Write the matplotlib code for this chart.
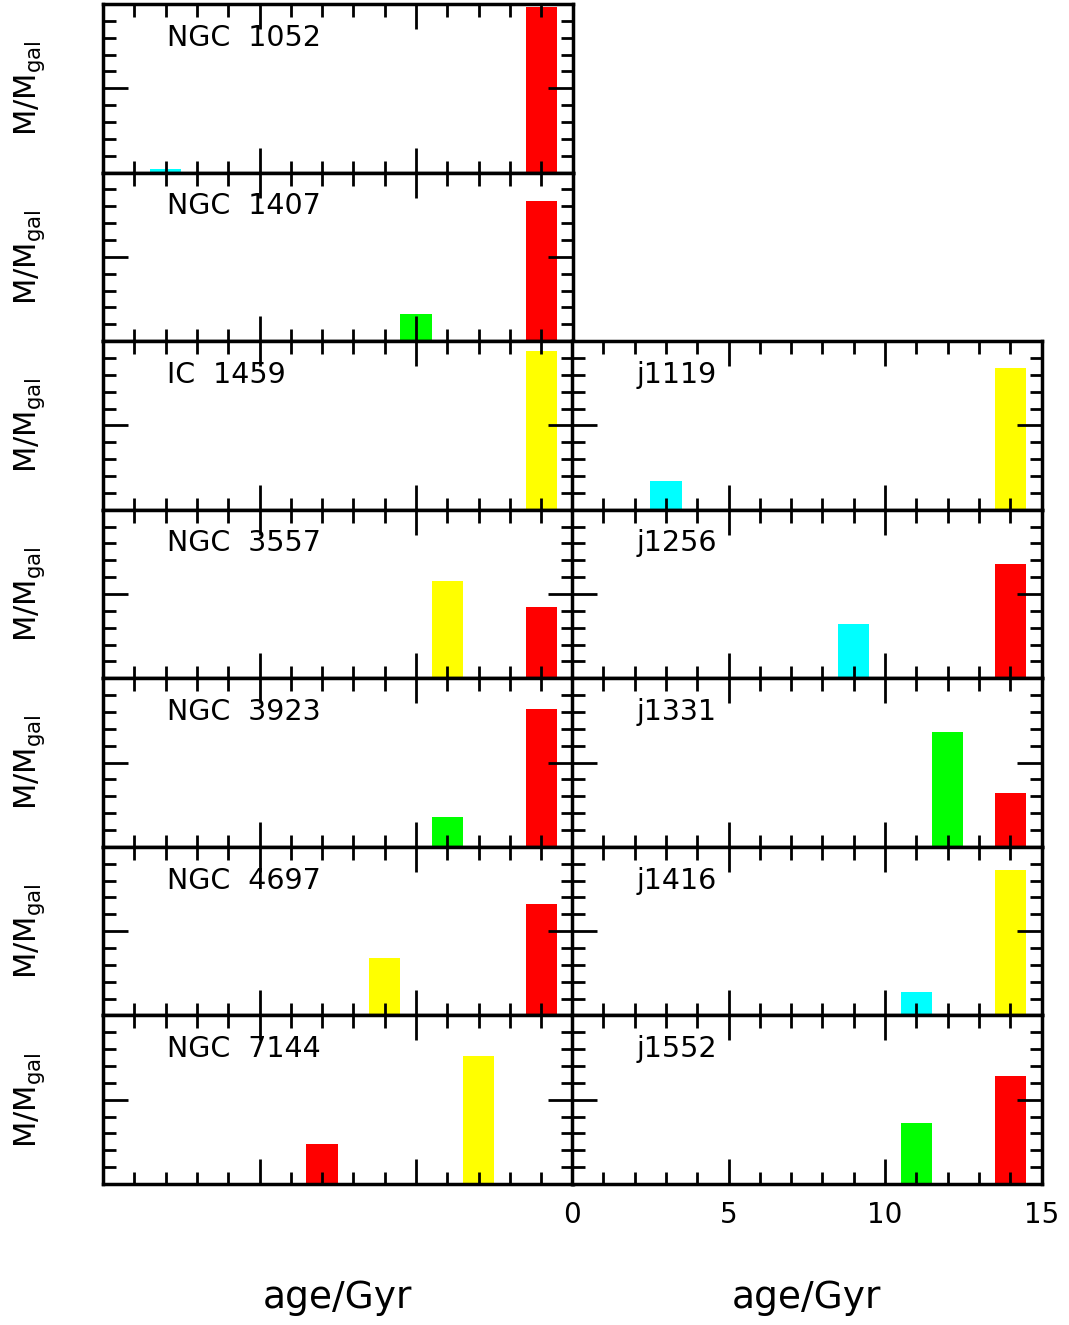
import numpy as np
import matplotlib
matplotlib.use('Agg')
import matplotlib.pyplot as plt
from matplotlib.ticker import MultipleLocator

# galaxy names, left column top to bottom then right column
left_names = ['NGC  1052', 'NGC  1407', 'IC  1459', 'NGC  3557', 'NGC  3923', 'NGC  4697', 'NGC  7144']
right_names = ['j1119', 'j1256', 'j1331', 'j1416', 'j1552']

# age bins (Gyr) with mass fractions and bar colours for each galaxy
ages = {
    'NGC  1052': [2, 14],
    'NGC  1407': [10, 14],
    'IC  1459': [14],
    'NGC  3557': [11, 14],
    'NGC  3923': [11, 14],
    'NGC  4697': [9, 14],
    'NGC  7144': [7, 12],
    'j1119': [3, 14],
    'j1256': [9, 14],
    'j1331': [12, 14],
    'j1416': [11, 14],
    'j1552': [11, 14],
}
fractions = {
    'NGC  1052': [0.02, 0.98],
    'NGC  1407': [0.16, 0.83],
    'IC  1459': [0.94],
    'NGC  3557': [0.58, 0.42],
    'NGC  3923': [0.18, 0.82],
    'NGC  4697': [0.34, 0.66],
    'NGC  7144': [0.24, 0.76],
    'j1119': [0.17, 0.84],
    'j1256': [0.32, 0.68],
    'j1331': [0.68, 0.32],
    'j1416': [0.14, 0.86],
    'j1552': [0.36, 0.64],
}
colors = {
    'NGC  1052': ['cyan', 'red'],
    'NGC  1407': ['lime', 'red'],
    'IC  1459': ['yellow'],
    'NGC  3557': ['yellow', 'red'],
    'NGC  3923': ['lime', 'red'],
    'NGC  4697': ['yellow', 'red'],
    'NGC  7144': ['red', 'yellow'],
    'j1119': ['cyan', 'yellow'],
    'j1256': ['cyan', 'red'],
    'j1331': ['lime', 'red'],
    'j1416': ['cyan', 'yellow'],
    'j1552': ['lime', 'red'],
}

W, H = 1069, 1325
fig = plt.figure(figsize=(W / 100, H / 100), dpi=100)

x0_left, x0_right, panel_w = 103, 572, 469.5
top, bottom = 4, 1184
row_h = (bottom - top) / 7


def make_panel(col, row, name, show_xlabels):
    x0 = x0_left if col == 0 else x0_right
    y_top = top + row * row_h
    ax = fig.add_axes([x0 / W, 1 - (y_top + row_h) / H, panel_w / W, row_h / H])
    ax.bar(ages[name], fractions[name], width=1.0, color=colors[name], zorder=1)
    ax.set_xlim(0, 15)
    ax.set_ylim(0, 1)
    ax.xaxis.set_major_locator(MultipleLocator(5))
    ax.xaxis.set_minor_locator(MultipleLocator(1))
    ax.yaxis.set_major_locator(MultipleLocator(0.5))
    ax.yaxis.set_minor_locator(MultipleLocator(0.1))
    ax.tick_params(which='both', direction='in', top=True, right=True, width=2, color='black')
    ax.tick_params(which='major', length=18)
    ax.tick_params(which='minor', length=9)
    ax.tick_params(labelleft=False, labelbottom=show_xlabels, labelsize=20, pad=12)
    for s in ax.spines.values():
        s.set_linewidth(2.5)
        s.set_zorder(5)
    ax.text(2.05, 0.8, name, transform=ax.get_xaxis_transform(), fontsize=20.5,
            va='center', ha='left')
    if col == 0:
        fig.text(30 / W, 1 - (y_top + row_h / 2) / H, r'M/M$_{\rm gal}$', rotation=90,
                 fontsize=22, ha='center', va='center')
    return ax


for i, name in enumerate(left_names):
    make_panel(0, i, name, False)
for i, name in enumerate(right_names):
    make_panel(1, i + 2, name, i == len(right_names) - 1)

fig.text((x0_left + panel_w / 2) / W, 1 - 1298 / H, 'age/Gyr', fontsize=27, ha='center', va='center')
fig.text((x0_right + panel_w / 2) / W, 1 - 1298 / H, 'age/Gyr', fontsize=27, ha='center', va='center')

fig.savefig('out.png', dpi=100)
